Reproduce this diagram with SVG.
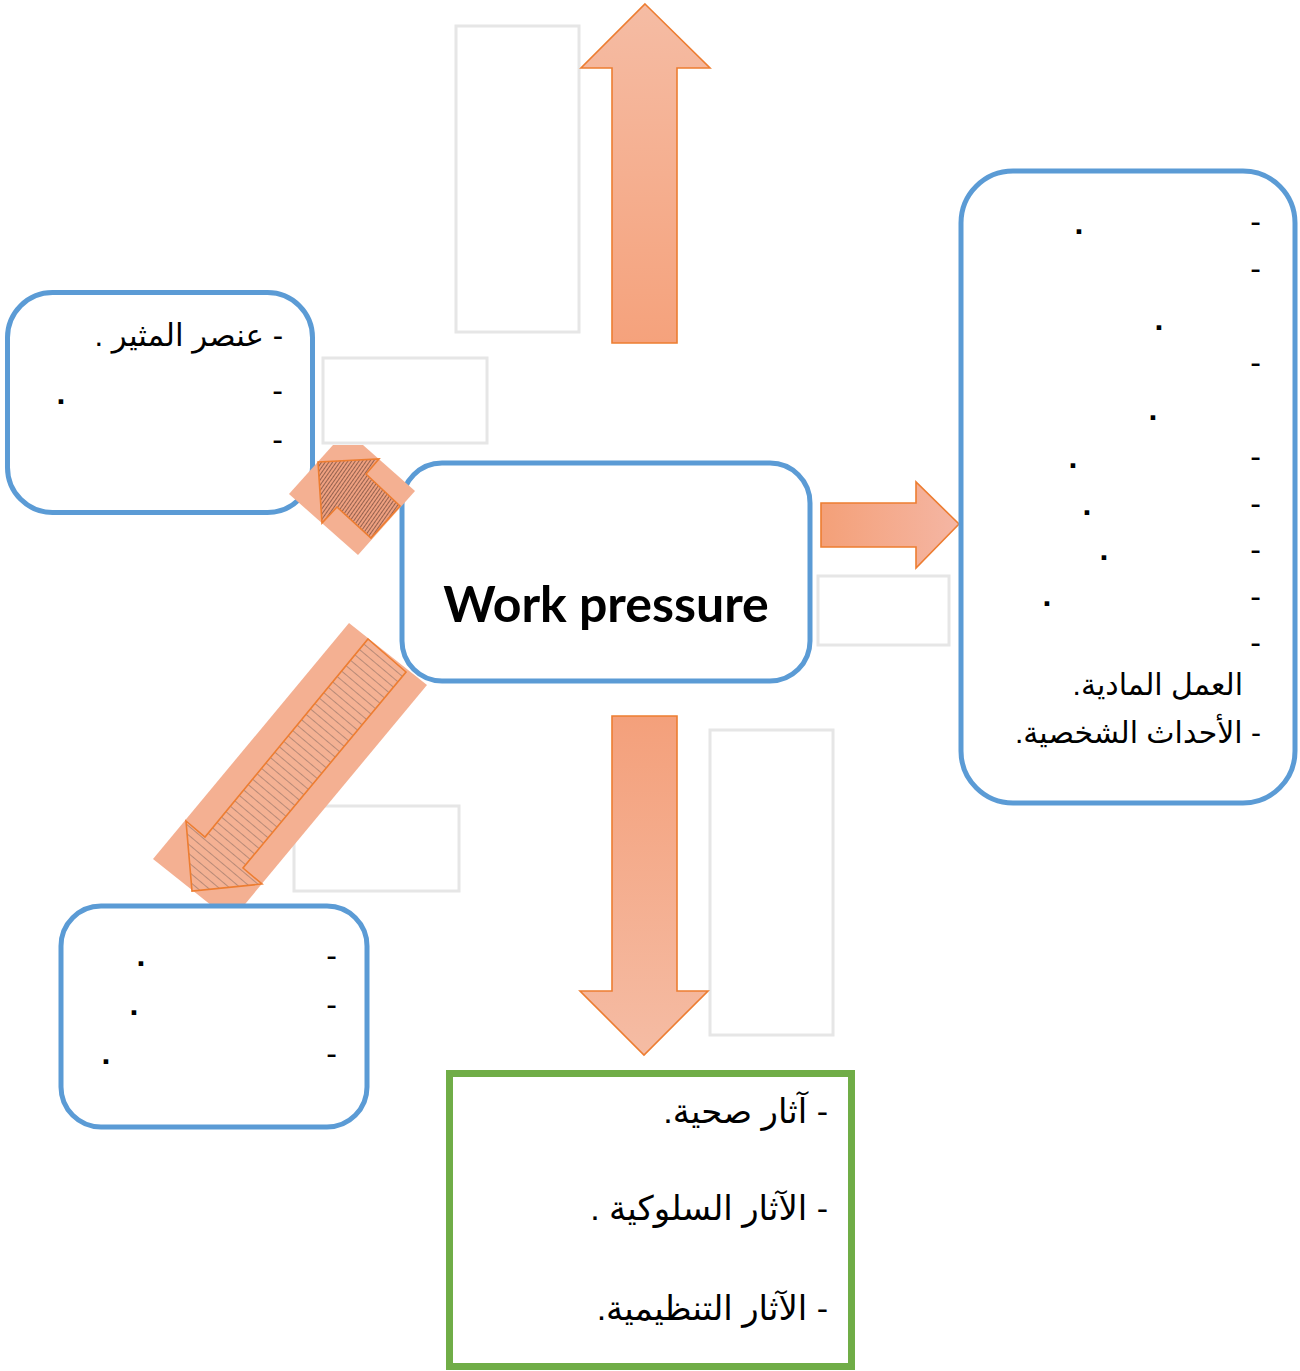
<svg xmlns="http://www.w3.org/2000/svg" width="1300" height="1371" viewBox="0 0 1300 1371">
  <defs>
    <style>
      .box { fill: #ffffff; stroke: #5B9BD5; stroke-width: 5; }
      .green { fill: #ffffff; stroke: #70AD47; stroke-width: 7; }
      .ghost { fill: #ffffff; stroke: #E6E6E6; stroke-width: 3; }
      .arrow { stroke: #ED7D31; stroke-width: 1.6; stroke-linejoin: miter; }
      .bg { fill: #F4B092; }
      .ar { font-family: "Liberation Sans", "DejaVu Sans", sans-serif; font-size: 30px; fill: #000000; direction: rtl; unicode-bidi: embed; text-anchor: start; }
      .ar-l { font-size: 34px; }
      .ar-m { font-size: 31px; }
      .mk { font-family: "Liberation Sans", sans-serif; font-size: 32px; fill: #000000; }
      .dot { font-family: "Liberation Sans", sans-serif; font-size: 32px; font-weight: 700; fill: #000000; text-anchor: middle; }
      .title { font-family: Lato, "Open Sans", sans-serif; font-weight: 700; font-size: 50px; fill: #000000; text-anchor: middle; }
    </style>
    <linearGradient id="gUp" x1="0" y1="1" x2="0" y2="0">
      <stop offset="0" stop-color="#F5A27C"/>
      <stop offset="1" stop-color="#F5BCA4"/>
    </linearGradient>
    <linearGradient id="gDown" x1="0" y1="0" x2="0" y2="1">
      <stop offset="0" stop-color="#F4A07B"/>
      <stop offset="1" stop-color="#F5BCA4"/>
    </linearGradient>
    <linearGradient id="gRight" x1="0" y1="0" x2="1" y2="0">
      <stop offset="0" stop-color="#F4A078"/>
      <stop offset="1" stop-color="#F5B6A4"/>
    </linearGradient>
    <pattern id="hatchDense" patternUnits="userSpaceOnUse" width="3" height="3" patternTransform="rotate(-55)">
      <rect width="3" height="3" fill="#EEA080"/>
      <line x1="0" y1="0.5" x2="3" y2="0.5" stroke="#8A5A48" stroke-width="0.9"/>
    </pattern>
    <pattern id="hatchSparse" patternUnits="userSpaceOnUse" width="7" height="7" patternTransform="rotate(40)">
      <rect width="7" height="7" fill="#F4B193"/>
      <line x1="0" y1="0.5" x2="7" y2="0.5" stroke="#A88070" stroke-width="0.8"/>
    </pattern>
  </defs>

  <g id="ghost-bottomleft">
    <rect class="ghost" x="294" y="806" width="165" height="85"/>
  </g>
  <g id="ghost-top">
    <rect class="ghost" x="456" y="26" width="123" height="306"/>
  </g>
  <g id="ghost-right">
    <rect class="ghost" x="818" y="576" width="131" height="69"/>
  </g>
  <g id="ghost-bottom">
    <rect class="ghost" x="710" y="730" width="123" height="305"/>
  </g>

  <g id="connectors">
    <polygon class="arrow" fill="url(#gUp)" points="645,4 710,68 677,68 677,343 612,343 612,68 581,68"/>
    <polygon class="arrow" fill="url(#gDown)" points="612,716 677,716 677,991 708,991 644,1055 580,991 612,991"/>
    <polygon class="arrow" fill="url(#gRight)" points="821,503 916,503 916,482 959,524 916,568 916,547 821,547"/>
    <polygon class="bg" points="349,623 427,685 231,921 153,859"/>
    <polygon class="arrow" fill="url(#hatchSparse)" points="368,639 406,672 243,868 262,884 192,891 186,821 205,837"/>
  </g>

  <g id="node-center">
    <rect class="box" x="402" y="463" width="408" height="218" rx="40" ry="40"/>
    <text class="title" x="606" y="622">Work pressure</text>
  </g>

  <g id="node-topleft">
    <rect class="box" x="7.5" y="292.5" width="305" height="220" rx="45" ry="45"/>
    <text class="ar ar-m" x="283" y="346">- عنصر المثير .</text>
    <text class="mk" x="283" y="401" text-anchor="end">-</text>
    <text class="dot" x="61" y="404">.</text>
    <text class="mk" x="283" y="450" text-anchor="end">-</text>
  </g>

  <g id="connector-small">
    <polygon class="bg" points="289,494 333,445 363,445 415,491 358,555"/>
    <polygon class="arrow" fill="url(#hatchDense)" points="318,462 379,459 366,474 400,506 371,538 337,507 322,523"/>
  </g>
  <g id="ghost-midleft">
    <rect class="ghost" x="323" y="358" width="164" height="85"/>
  </g>

  <g id="node-right">
    <rect class="box" x="961" y="171" width="334" height="632" rx="52" ry="52"/>
    <text class="mk" x="1261" y="232" text-anchor="end">-</text>
    <text class="dot" x="1079" y="234">.</text>
    <text class="mk" x="1261" y="279" text-anchor="end">-</text>
    <text class="dot" x="1159" y="330">.</text>
    <text class="mk" x="1261" y="373" text-anchor="end">-</text>
    <text class="dot" x="1153" y="420">.</text>
    <text class="mk" x="1261" y="467" text-anchor="end">-</text>
    <text class="dot" x="1073" y="468">.</text>
    <text class="mk" x="1261" y="514" text-anchor="end">-</text>
    <text class="dot" x="1087" y="515">.</text>
    <text class="mk" x="1261" y="560" text-anchor="end">-</text>
    <text class="dot" x="1104" y="560">.</text>
    <text class="mk" x="1261" y="607" text-anchor="end">-</text>
    <text class="dot" x="1047" y="606">.</text>
    <text class="mk" x="1261" y="653" text-anchor="end">-</text>
    <text class="ar" x="1243" y="695">العمل المادية.</text>
    <text class="ar" x="1261" y="743">- الأحداث الشخصية.</text>
  </g>

  <g id="node-bottomleft">
    <rect class="box" x="61" y="906" width="306" height="221" rx="40" ry="40"/>
    <text class="mk" x="337" y="966" text-anchor="end">-</text>
    <text class="dot" x="141" y="966">.</text>
    <text class="mk" x="337" y="1015" text-anchor="end">-</text>
    <text class="dot" x="134" y="1015">.</text>
    <text class="mk" x="337" y="1064" text-anchor="end">-</text>
    <text class="dot" x="106" y="1064">.</text>
  </g>

  <g id="node-bottom">
    <rect class="green" x="449.5" y="1073.5" width="402" height="293"/>
    <text class="ar ar-l" x="828" y="1123">- آثار صحية.</text>
    <text class="ar ar-l" x="828" y="1220">- الآثار السلوكية .</text>
    <text class="ar ar-l" x="828" y="1320">- الآثار التنظيمية.</text>
  </g>
</svg>
